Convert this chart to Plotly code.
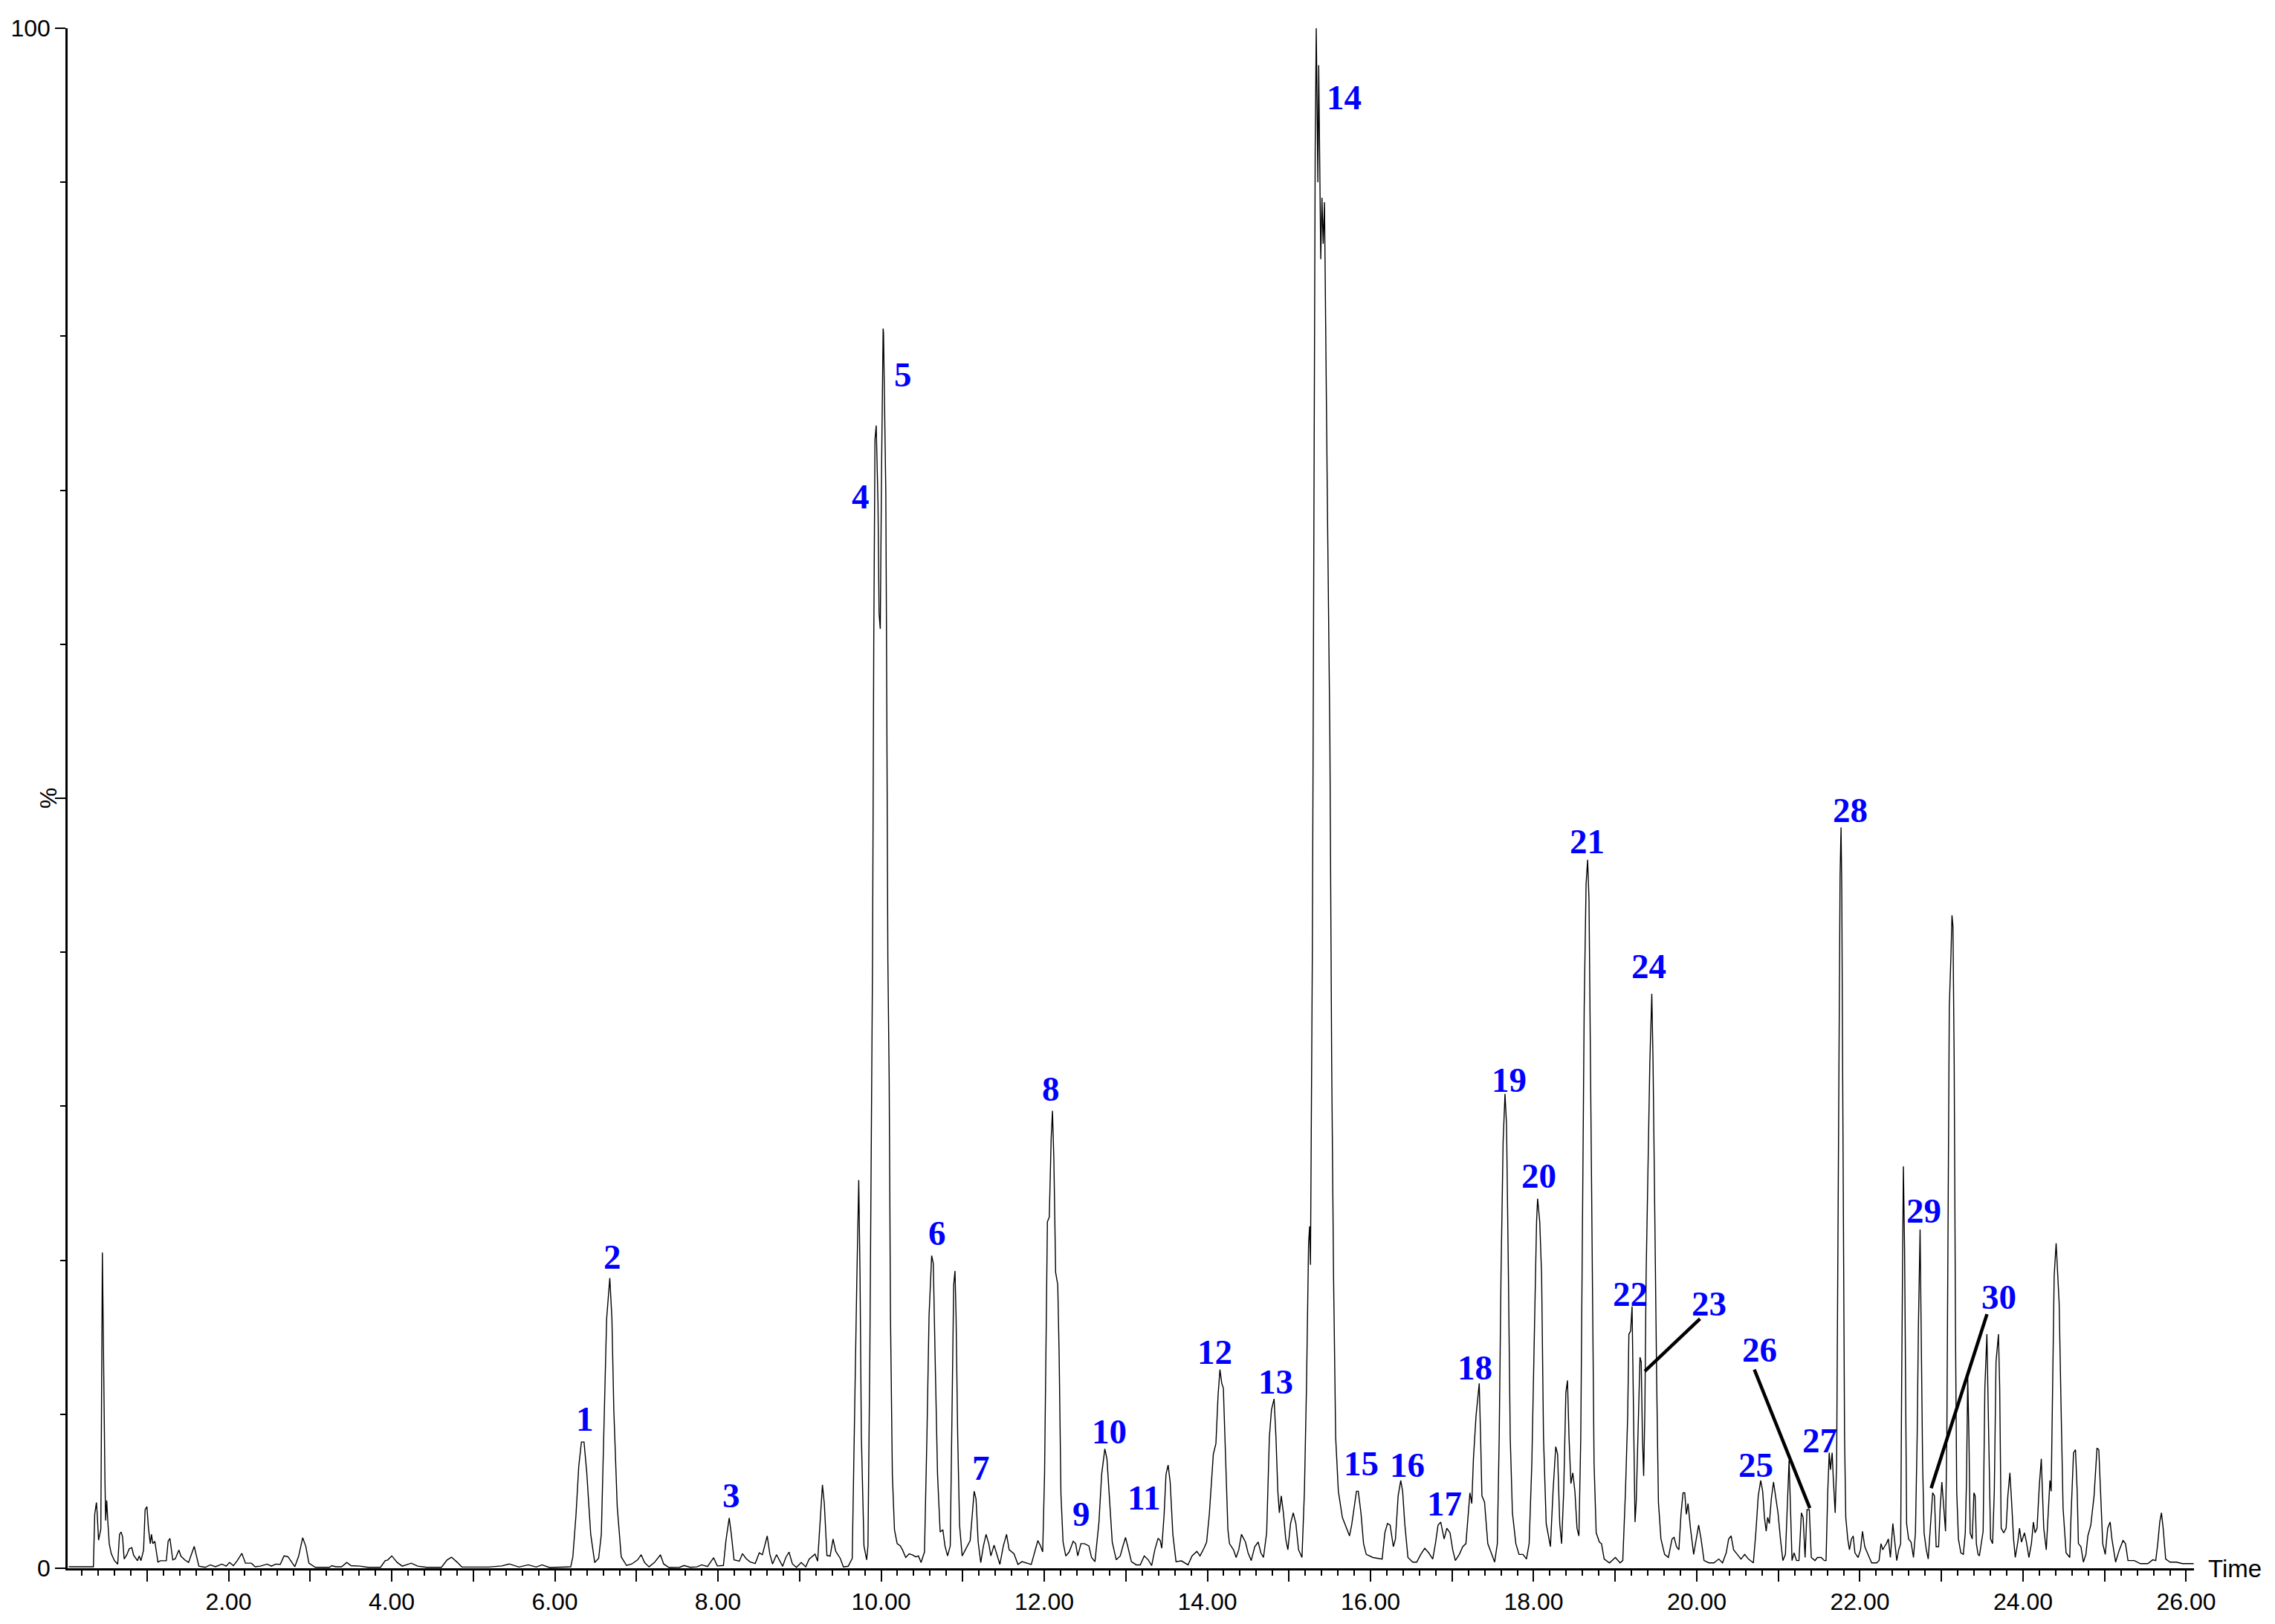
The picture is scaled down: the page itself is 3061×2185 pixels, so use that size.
import plotly.graph_objects as go

# ---- chromatogram trace (time in min, relative intensity in %) ----
time_min = [
    0.04, 0.343, 0.359, 0.38, 0.39, 0.406, 0.434, 0.443, 0.453, 0.462, 0.468, 0.475, 0.484, 0.493, 0.506, 0.518,
    0.537, 0.562, 0.600, 0.641, 0.663, 0.682, 0.700, 0.720, 0.751, 0.782, 0.814, 0.835, 0.883, 0.905, 0.926, 0.958,
    0.977, 0.999, 1.018, 1.040, 1.055, 1.071, 1.096, 1.134, 1.165, 1.237, 1.259, 1.281, 1.316, 1.347, 1.391, 1.416,
    1.463, 1.510, 1.541, 1.579, 1.636, 1.714, 1.777, 1.840, 1.918, 1.971, 2.012, 2.059, 2.106, 2.163, 2.207, 2.279,
    2.326, 2.389, 2.474, 2.524, 2.577, 2.634, 2.680, 2.728, 2.812, 2.859, 2.909, 2.947, 2.985, 3.063, 3.236, 3.267,
    3.314, 3.386, 3.449, 3.502, 3.612, 3.706, 3.863, 3.920, 3.951, 4.001, 4.067, 4.130, 4.240, 4.318, 4.428, 4.610,
    4.679, 4.733, 4.805,
    4.860, 5.186, 5.349, 5.440, 5.560, 5.674, 5.772, 5.843, 5.934, 6.195, 6.221, 6.260, 6.293, 6.326, 6.358, 6.391,
    6.440, 6.489, 6.537, 6.570, 6.602, 6.635, 6.674, 6.700, 6.723, 6.765, 6.814, 6.879, 6.944, 7.016, 7.058, 7.100,
    7.155, 7.220, 7.295, 7.334, 7.399, 7.530, 7.585, 7.660, 7.741, 7.800, 7.872, 7.946, 7.992, 8.067, 8.099, 8.138,
    8.164, 8.197, 8.262, 8.301, 8.343, 8.392, 8.457, 8.506, 8.545, 8.604, 8.636, 8.669, 8.718, 8.750, 8.793, 8.832,
    8.871, 8.913, 8.962, 9.021, 9.076, 9.118, 9.190, 9.222, 9.255, 9.281, 9.304, 9.336, 9.375, 9.411, 9.444, 9.499,
    9.538, 9.597, 9.646,
    9.676, 9.703, 9.726, 9.742, 9.758, 9.790, 9.823, 9.839, 9.862, 9.882, 9.895,
    9.91, 9.925, 9.94, 9.95, 9.955, 9.962, 9.975, 9.99, 10.006, 10.016, 10.025, 10.03, 10.036, 10.045, 10.05, 10.058,
    10.065,
    10.083, 10.099, 10.115, 10.138, 10.164, 10.197, 10.236, 10.262, 10.302, 10.344, 10.386, 10.425, 10.458, 10.490,
    10.532, 10.562, 10.588, 10.620, 10.640, 10.662, 10.692, 10.724, 10.757, 10.783, 10.815, 10.848, 10.874, 10.890,
    10.906, 10.919, 10.939, 10.962, 10.994, 11.043, 11.092, 11.118, 11.141, 11.164, 11.190, 11.222, 11.255, 11.287,
    11.320, 11.346, 11.385, 11.417, 11.456, 11.499, 11.538, 11.570, 11.629, 11.678, 11.727, 11.841, 11.889, 11.922,
    11.955, 11.981, 12.004, 12.026, 12.039, 12.062, 12.085, 12.101, 12.118, 12.140, 12.166, 12.183, 12.205, 12.231,
    12.264, 12.306, 12.355, 12.385, 12.411, 12.450, 12.492, 12.547, 12.580, 12.622, 12.671, 12.704, 12.743, 12.769,
    12.802, 12.834, 12.883, 12.932, 12.965, 12.997, 13.023, 13.069, 13.128, 13.177, 13.226, 13.275, 13.317, 13.356,
    13.396, 13.422, 13.441, 13.470, 13.493, 13.519, 13.544, 13.577, 13.616, 13.682, 13.763, 13.812, 13.871, 13.910,
    13.959, 13.991, 14.024, 14.073, 14.105, 14.131, 14.154, 14.177, 14.196, 14.219, 14.252,
    14.271, 14.320, 14.353, 14.385, 14.418, 14.467, 14.499, 14.538, 14.581, 14.623, 14.656, 14.688, 14.727, 14.760,
    14.786, 14.818, 14.841, 14.864, 14.883, 14.906, 14.932, 14.961, 14.987, 15.020, 15.053, 15.085, 15.118, 15.160,
    15.190, 15.216, 15.241, 15.254, 15.264, 15.274, 15.287, 15.297,
    15.31, 15.322, 15.335, 15.345, 15.355, 15.365, 15.375, 15.39, 15.405, 15.42, 15.436, 15.45, 15.47, 15.49,
    15.502, 15.524, 15.547, 15.573, 15.606, 15.655, 15.704, 15.743, 15.769, 15.801, 15.828, 15.850, 15.883, 15.915,
    15.948, 16.029, 16.143, 16.176, 16.208, 16.241, 16.280, 16.306, 16.339, 16.371, 16.394, 16.420, 16.459, 16.518,
    16.567, 16.616, 16.665, 16.714, 16.763, 16.796, 16.828, 16.861, 16.903, 16.936, 16.975, 17.008, 17.040, 17.089,
    17.131, 17.170, 17.196, 17.219, 17.242, 17.262, 17.294, 17.333, 17.350, 17.366, 17.398, 17.438, 17.480, 17.522,
    17.555, 17.578, 17.600, 17.626, 17.649, 17.668, 17.691, 17.713, 17.740, 17.782, 17.821, 17.870, 17.912, 17.945,
    17.978, 18.010, 18.036, 18.049, 18.075, 18.098, 18.121, 18.154, 18.206, 18.238, 18.271, 18.294, 18.320, 18.343,
    18.369, 18.395, 18.415, 18.434, 18.457, 18.480, 18.506, 18.532, 18.555, 18.578, 18.597, 18.620, 18.643, 18.662,
    18.679, 18.695, 18.718, 18.741, 18.767, 18.806, 18.832, 18.865, 18.930, 19.002, 19.060, 19.093, 19.126,
    19.153, 19.168, 19.189, 19.207, 19.219, 19.228, 19.243, 19.258, 19.280, 19.304, 19.319, 19.334, 19.349, 19.364,
    19.379, 19.400, 19.425, 19.449, 19.464, 19.479, 19.494, 19.509, 19.530, 19.561, 19.606, 19.652, 19.697, 19.722,
    19.752, 19.781, 19.808, 19.832, 19.853, 19.872, 19.893, 19.923, 19.962, 19.992, 20.023, 20.053, 20.089, 20.149,
    20.210, 20.270, 20.316, 20.361, 20.391, 20.421, 20.452, 20.497, 20.542, 20.588, 20.633, 20.694, 20.724, 20.754,
    20.784, 20.808, 20.830, 20.851, 20.869, 20.890, 20.914, 20.941, 20.966, 20.996, 21.026, 21.056, 21.087, 21.111,
    21.132, 21.147, 21.168, 21.193, 21.223, 21.253, 21.283, 21.304, 21.328, 21.352, 21.380, 21.404, 21.449, 21.479,
    21.525, 21.564, 21.585, 21.606, 21.624, 21.639, 21.660, 21.675, 21.697, 21.715, 21.727, 21.742, 21.757, 21.769,
    21.778, 21.788, 21.800, 21.812, 21.827, 21.851, 21.872, 21.896, 21.918, 21.939, 21.978, 22.008, 22.032, 22.060,
    22.099, 22.144, 22.205, 22.235, 22.259, 22.280, 22.301, 22.325, 22.349, 22.374, 22.404, 22.425, 22.452, 22.476,
    22.500, 22.512, 22.524, 22.533, 22.548, 22.561, 22.573, 22.597, 22.627, 22.657, 22.681, 22.702, 22.717, 22.738,
    22.753, 22.769, 22.787, 22.814, 22.838, 22.868, 22.892, 22.914, 22.935, 22.965, 22.984, 23.005, 23.026, 23.050,
    23.066, 23.081, 23.096, 23.117, 23.129, 23.141, 23.156, 23.172, 23.187, 23.208, 23.238, 23.268, 23.292, 23.307,
    23.322, 23.337, 23.352, 23.377, 23.398, 23.413, 23.428, 23.449,
    23.465, 23.511, 23.532, 23.557, 23.578, 23.602, 23.627, 23.648, 23.669, 23.699, 23.714, 23.732, 23.763, 23.793,
    23.814, 23.839, 23.860, 23.884, 23.905, 23.936, 23.957, 23.981, 24.018, 24.042, 24.072, 24.103, 24.127, 24.148,
    24.172, 24.200, 24.224, 24.254, 24.285, 24.309, 24.330, 24.345, 24.361, 24.382, 24.406, 24.424, 24.443, 24.467,
    24.491, 24.528, 24.573, 24.588, 24.619, 24.643, 24.664, 24.679, 24.710, 24.740, 24.771, 24.795, 24.831, 24.871,
    24.907, 24.929, 24.953, 24.977, 25.008, 25.038, 25.068, 25.090, 25.135, 25.181, 25.226, 25.256, 25.287, 25.363,
    25.439, 25.530, 25.591, 25.627, 25.652, 25.676, 25.697, 25.718, 25.749, 25.803, 25.879, 25.955, 26.092,
]

intensity_pct = [
    0.1, 0.1, 3.5, 4.27, 3.5, 1.82, 2.54, 10.2, 20.5, 16.3, 12.9, 9.6, 5.9, 3.1, 4.4, 3.2,
    1.6, 0.95, 0.5, 0.27, 2.2, 2.35, 2.06, 0.6, 0.86, 1.26, 1.34, 0.86, 0.49, 0.8, 0.49, 1.18,
    3.8, 4.0, 2.6, 1.6, 2.2, 1.6, 1.75, 0.4, 0.49, 0.49, 1.75, 1.94, 0.54, 0.62, 1.18, 0.78,
    0.54, 0.38, 0.86, 1.42, 0.14, 0.06, 0.22, 0.1, 0.27, 0.14, 0.38, 0.17, 0.49, 0.97, 0.33, 0.33,
    0.1, 0.14, 0.27, 0.14, 0.27, 0.25, 0.8, 0.75, 0.1, 0.78, 1.98, 1.42, 0.33, 0.06, 0.06, 0.17,
    0.1, 0.1, 0.38, 0.17, 0.14, 0.06, 0.06, 0.49, 0.54, 0.8, 0.38, 0.14, 0.33, 0.14, 0.06, 0.06,
    0.54, 0.72, 0.38,
    0.08, 0.08, 0.15, 0.28, 0.08, 0.22, 0.08, 0.22, 0.05, 0.09, 0.74, 3.5, 6.6, 8.2, 8.2, 6.25,
    2.2, 0.37, 0.64, 2.2, 9.56, 16.2, 18.85, 16.2, 10.3, 4.0, 0.74, 0.18, 0.28, 0.55, 0.88, 0.37,
    0.09, 0.37, 0.87, 0.28, 0.05, 0.06, 0.18, 0.06, 0.09, 0.22, 0.11, 0.68, 0.15, 0.18, 1.85, 3.27,
    2.2, 0.55, 0.46, 0.95, 0.64, 0.42, 0.31, 1.0, 0.88, 2.1, 0.92, 0.28, 0.88, 0.55, 0.13, 0.7,
    1.05, 0.28, 0.06, 0.37, 0.09, 0.59, 0.92, 0.46, 3.3, 5.42, 4.2, 0.83, 0.79, 1.9, 1.1, 0.64,
    0.09, 0.13, 0.64,
    11.2, 18.9, 25.2, 18.9, 8.6, 1.45, 0.55, 1.45, 13.8, 31.8, 39.5,
    60.0, 73.3, 74.2, 72.0, 70.8, 69.2, 62.0, 61.0, 71.5, 78.0, 80.5, 80.2, 77.4, 74.7, 71.5, 69.8,
    62.0,
    39.5, 31.8, 16.4, 6.1, 2.5, 1.6, 1.45, 1.2, 0.7, 0.94, 0.86, 0.74, 0.8, 0.37,
    1.06, 8.6, 16.4, 20.3, 19.8, 13.8, 6.1, 2.35, 2.5, 1.45, 0.8, 1.45, 11.2, 18.4,
    19.3, 16.4, 8.6, 2.8, 0.8, 1.3, 1.8, 3.5, 5.0, 4.5, 1.7, 0.37, 1.45, 2.2,
    1.6, 0.8, 1.5, 0.94, 0.25, 1.45, 2.2, 1.2, 0.94, 0.25, 0.43, 0.25, 1.2, 1.8,
    1.45, 1.06, 6.1, 16.4, 22.5, 22.8, 27.9, 29.7, 26.6, 19.2, 18.4, 13.8, 4.8, 1.7,
    0.8, 1.06, 1.75, 1.6, 0.8, 1.6, 1.6, 1.45, 0.7, 0.43, 3.0, 6.1, 7.75, 7.1,
    4.5, 1.7, 0.55, 0.8, 1.45, 2.0, 1.45, 0.43, 0.22, 0.22, 0.8, 0.55, 0.17, 1.2,
    1.95, 1.8, 1.3, 3.5, 6.1, 6.7, 5.6, 2.2, 0.43, 0.48, 0.22, 0.8, 1.1, 0.8,
    1.3, 1.7, 3.5, 7.4, 8.1, 11.2, 12.9, 12.0, 11.7, 7.4, 2.5,
    1.6, 1.2, 0.7, 1.2, 2.2, 1.7, 1.0, 0.5, 1.4, 1.7, 1.0, 0.7, 2.3, 8.5,
    10.3, 11.0, 8.5, 5.0, 3.6, 4.7, 3.6, 1.9, 1.2, 2.9, 3.6, 2.9, 1.2, 0.7,
    5.0, 12.0, 21.1, 22.2, 19.7, 26.6, 39.9, 53.9,
    75.0, 92.0, 100.0, 94.0, 90.0, 97.6, 92.0, 85.0, 89.0, 86.0, 88.7, 80.0, 70.0, 60.0,
    53.9, 32.9, 19.0, 8.5, 5.0, 3.3, 2.6, 2.1, 2.8, 4.0, 5.0, 5.0, 3.6, 1.6,
    0.9, 0.7, 0.6, 2.3, 2.9, 2.8, 1.4, 1.9, 4.7, 5.7, 5.0, 2.9, 0.7, 0.4,
    0.4, 0.9, 1.3, 1.0, 0.6, 1.6, 2.8, 3.0, 1.9, 2.6, 2.3, 1.2, 0.5, 0.9,
    1.4, 1.6, 3.3, 4.9, 4.2, 7.1, 9.9, 12.0, 8.5, 4.7, 4.3, 1.6, 1.0, 0.4,
    1.6, 8.5, 19.0, 27.7, 30.8, 28.8, 19.0, 8.5, 3.6, 1.6, 0.9, 0.9, 0.6, 1.6,
    6.8, 15.5, 22.5, 24.0, 22.5, 19.0, 8.5, 2.9, 1.4, 5.0, 7.9, 7.4, 2.9, 1.6,
    5.0, 11.4, 12.2, 8.5, 5.5, 6.2, 5.0, 2.6, 2.1, 8.5, 22.5, 36.4, 44.4, 46.0,
    43.4, 32.9, 19.0, 6.8, 2.3, 1.7, 1.6, 0.6, 0.35, 0.7, 0.35, 0.5, 5.0,
    9.9, 15.2, 15.4, 17.0, 12.0, 6.8, 3.0, 4.3, 8.5, 13.7, 13.4, 8.5, 6.0, 10.3,
    19.0, 26.0, 32.9, 37.3, 32.9, 26.0, 17.2, 12.0, 4.3, 1.9, 0.9, 0.7, 1.9, 2.0,
    1.4, 1.2, 3.6, 4.9, 4.9, 3.5, 4.2, 2.6, 0.9, 1.9, 2.8, 1.9, 0.5, 0.35,
    0.35, 0.6, 0.35, 1.0, 1.9, 2.1, 1.2, 0.9, 0.6, 0.9, 0.6, 0.35, 2.3, 4.7,
    5.7, 5.0, 3.3, 2.4, 3.3, 2.9, 4.5, 5.6, 4.7, 3.6, 1.9, 0.5, 0.9, 4.3,
    7.0, 4.3, 0.5, 1.0, 0.5, 0.5, 3.6, 3.3, 0.7, 3.8, 3.8, 0.7, 0.5, 0.7,
    0.7, 0.5, 0.5, 5.0, 7.5, 6.4, 7.5, 5.7, 3.6, 6.8, 19.0, 32.9, 45.0, 48.1,
    44.1, 32.9, 19.0, 8.5, 3.3, 1.9, 1.2, 1.9, 2.1, 1.0, 0.7, 1.2, 2.4, 1.4,
    0.9, 0.35, 0.35, 0.5, 1.6, 1.2, 1.4, 1.6, 1.9, 0.7, 2.9, 1.7, 0.5, 1.2,
    1.6, 12.0, 22.5, 26.1, 20.7, 12.0, 2.9, 1.9, 1.7, 0.7, 2.3, 8.5, 15.5, 22.0,
    15.5, 6.8, 2.3, 1.2, 0.6, 2.9, 4.9, 4.7, 1.4, 1.4, 3.9, 5.6, 3.9, 2.4,
    8.5, 26.0, 36.4, 39.9, 42.4, 41.7, 32.9, 15.5, 5.0, 1.9, 1.0, 0.9, 2.3, 5.7,
    12.4, 8.5, 2.3, 1.9, 4.9, 4.7, 1.6, 0.9,
    0.8, 2.4, 11.7, 15.2, 8.5, 1.9, 1.6, 5.0, 13.4, 15.2, 11.7, 2.6, 2.3, 2.6,
    4.7, 6.2, 4.3, 1.9, 0.7, 1.7, 2.6, 1.7, 2.3, 1.7, 0.7, 1.6, 3.0, 2.3,
    2.6, 5.4, 7.1, 2.6, 1.2, 3.3, 5.7, 5.0, 11.7, 19.0, 21.1, 19.3, 17.2, 10.3,
    3.9, 1.0, 0.7, 3.3, 7.5, 7.7, 5.0, 1.6, 1.4, 0.4, 0.9, 2.1, 2.8, 4.7,
    7.8, 7.7, 4.3, 1.6, 0.9, 2.6, 3.0, 1.9, 0.4, 1.2, 1.8, 1.6, 0.5, 0.5,
    0.3, 0.3, 0.55, 0.5, 1.6, 3.0, 3.6, 2.6, 0.6, 0.4, 0.4, 0.3, 0.3,
]

# ---- peak labels ----
peak_ids = [str(i) for i in range(1, 31)]
label_time = [6.37, 6.71, 8.16, 9.75, 10.27, 10.69, 11.225, 12.08, 12.455, 12.80,
              13.22, 14.09, 14.84, 15.68, 15.89, 16.45, 16.91, 17.28, 17.70, 18.06,
              18.66, 19.185, 20.155, 19.41, 20.72, 20.77, 21.51, 21.88, 22.78, 23.70]
label_pct = [9.7, 20.2, 4.75, 69.6, 77.5, 21.75, 6.5, 31.15, 3.5, 8.9,
             4.6, 14.05, 12.1, 95.5, 6.8, 6.7, 4.2, 13.05, 31.7, 25.5,
             47.2, 17.8, 17.2, 39.1, 6.7, 14.2, 8.3, 49.25, 23.2, 17.6]

# leader lines for crowded peaks
leader_peaks = ["23", "26", "30"]
leader_t0 = [20.04, 20.706, 23.558]
leader_p0 = [16.2, 12.9, 16.5]
leader_t1 = [19.363, 21.386, 22.874]
leader_p1 = [12.8, 3.9, 5.2]

x_major = list(range(1, 27))
x_major_text = [f"{v:.2f}" if v % 2 == 0 else "" for v in x_major]

fig = go.Figure()
fig.add_trace(go.Scatter(x=time_min, y=intensity_pct, mode="lines",
                         line=dict(color="black", width=1.4), hoverinfo="skip"))

tick_font = dict(family="Liberation Sans, Arial, sans-serif", size=32, color="black")

fig.update_layout(
    width=3061, height=2185,
    margin=dict(l=91, r=109, t=38, b=62, pad=0),
    paper_bgcolor="white", plot_bgcolor="white",
    showlegend=False,
    xaxis=dict(
        range=[0.027, 26.096], showgrid=False, zeroline=False,
        showline=True, linecolor="black", linewidth=2.5,
        tickmode="array", tickvals=x_major, ticktext=x_major_text,
        ticks="outside", ticklen=15, tickwidth=2, tickcolor="black",
        tickfont=tick_font,
        minor=dict(tickmode="linear", tick0=0, dtick=0.2, ticks="outside",
                   ticklen=7, tickwidth=1.5, tickcolor="black"),
    ),
    yaxis=dict(
        range=[0, 100], showgrid=False, zeroline=False,
        showline=True, linecolor="black", linewidth=2.5,
        tickmode="array", tickvals=[0, 50, 100], ticktext=["0", "", "100"],
        ticks="outside", ticklen=14, tickwidth=2, tickcolor="black",
        tickfont=tick_font,
        minor=dict(tickmode="linear", tick0=0, dtick=10, ticks="outside",
                   ticklen=7, tickwidth=1.5, tickcolor="black"),
    ),
)

# axis captions
fig.add_annotation(text="%", xref="paper", yref="y", x=-0.0091, y=50,
                   xanchor="center", yanchor="middle", textangle=-90,
                   showarrow=False, font=dict(family="Liberation Sans, Arial", size=32, color="black"))
fig.add_annotation(text="Time", xref="paper", yref="y", x=1.0059, y=0,
                   xanchor="left", yanchor="middle",
                   showarrow=False, font=dict(family="Liberation Sans, Arial", size=33, color="black"))

# leader lines
for t0, p0, t1, p1 in zip(leader_t0, leader_p0, leader_t1, leader_p1):
    fig.add_shape(type="line", xref="x", yref="y", x0=t0, y0=p0, x1=t1, y1=p1,
                  line=dict(color="black", width=4.5))

# peak labels
for pid, t, p in zip(peak_ids, label_time, label_pct):
    fig.add_annotation(text=pid, x=t, y=p, xref="x", yref="y", showarrow=False,
                       xanchor="center", yanchor="middle",
                       font=dict(family="Liberation Serif, Times New Roman, serif", size=47,
                                 color="#0000FF", weight="bold"))

# remove the default 8px page margin so the figure sits at the window origin
fig.write_html("out.html",
               config={"displayModeBar": False},
               post_script="document.body.style.margin='0px';document.body.style.overflow='hidden';")
